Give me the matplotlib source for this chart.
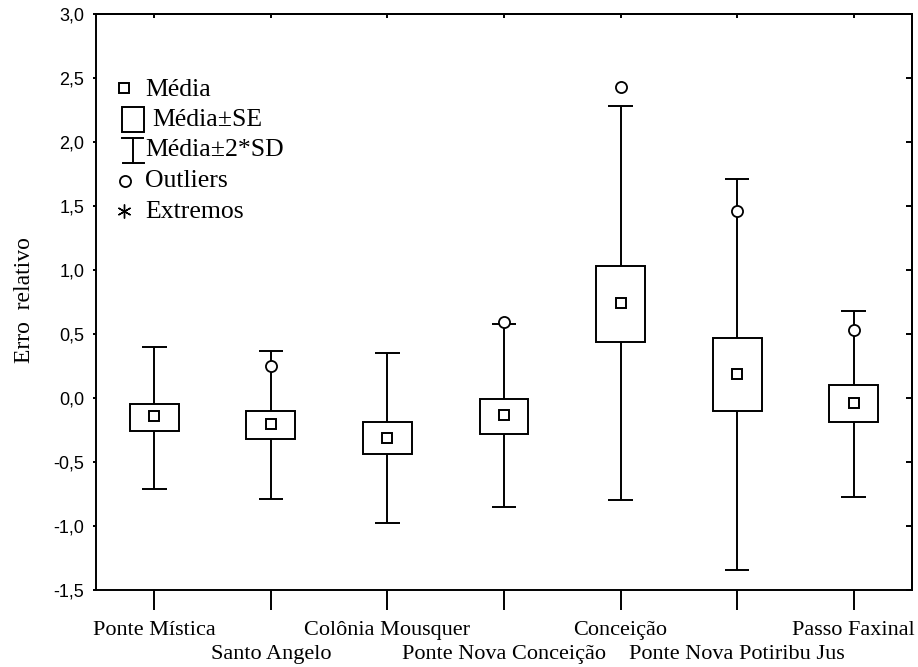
import numpy as np
import matplotlib
matplotlib.use("Agg")
import matplotlib.pyplot as plt
from matplotlib.patches import Rectangle

# ----------------------------------------
# DATA
# ----------------------------------------

sites = ["Ponte Mística", "Santo Angelo", "Colônia Mousquer",
         "Ponte Nova Conceição", "Conceição", "Ponte Nova Potiribu Jus",
         "Passo Faxinal"]

mean_vals = [-0.14, -0.20, -0.31, -0.13, 0.74, 0.19, -0.04]
se_low    = [-0.26, -0.32, -0.44, -0.28, 0.44, -0.10, -0.19]
se_high   = [-0.05, -0.10, -0.19, -0.01, 1.03, 0.47, 0.10]
sd_low    = [-0.71, -0.79, -0.98, -0.85, -0.80, -1.34, -0.77]
sd_high   = [0.40, 0.37, 0.35, 0.58, 2.28, 1.71, 0.68]
outliers  = [[], [0.25], [], [0.59], [2.43], [1.46], [0.53]]

y_ticks = [-1.5, -1.0, -0.5, 0.0, 0.5, 1.0, 1.5, 2.0, 2.5, 3.0]

serif = "Liberation Serif"
sans = "Liberation Sans"

# ----------------------------------------
# FIGURE
# ----------------------------------------

fig = plt.figure(figsize=(9.18, 6.67), dpi=100)
ax = fig.add_axes([96 / 918, 77 / 667, 816 / 918, 576 / 667])

x = np.arange(1, len(sites) + 1)
lw = 1.4

# whiskers (mean +/- 2*SD)
ax.vlines(x, sd_low, sd_high, color="black", lw=lw, zorder=1)
ax.hlines(sd_low, x - 0.105, x + 0.105, color="black", lw=lw, zorder=1)
ax.hlines(sd_high, x - 0.105, x + 0.105, color="black", lw=lw, zorder=1)

# boxes (mean +/- SE)
heights = np.array(se_high) - np.array(se_low)
ax.bar(x, heights, bottom=se_low, width=0.42, color="white",
       edgecolor="black", linewidth=lw, zorder=2)

# mean
ax.plot(x, mean_vals, "s", ms=7.5, mfc="white", mec="black", mew=lw, zorder=3)

# outliers
for xi, vals in zip(x, outliers):
    if vals:
        ax.plot([xi] * len(vals), vals, "o", ms=8, mfc="white", mec="black",
                mew=1.3, zorder=4)

ax.set_xlim(0.5, len(sites) + 0.5)
ax.set_ylim(-1.5, 3.0)

# axis ticks & labels: first row on the main axis...
ax.set_xticks(x)
ax.set_xticklabels([s if i % 2 == 0 else "" for i, s in enumerate(sites)],
                   fontfamily=serif, fontsize=16)
ax.tick_params(axis="x", direction="out", length=14.5, width=lw, pad=8)

# ...second (staggered) row on a secondary bottom axis
row2 = ax.secondary_xaxis("bottom")
row2.set_xticks(x[1::2])
row2.set_xticklabels(sites[1::2], fontfamily=serif, fontsize=16)
row2.tick_params(length=0, pad=39.5)
row2.spines["bottom"].set_visible(False)

ax.set_yticks(y_ticks)
ax.set_yticklabels([f"{v:.1f}".replace(".", ",") for v in y_ticks],
                   fontfamily=sans, fontsize=13)
ax.tick_params(axis="y", direction="out", length=2.5, width=lw, pad=6)

ax.set_ylabel("Erro  relativo", fontfamily=serif, fontsize=17)
ax.yaxis.set_label_coords(-0.075, 0.503)

for sp in ax.spines.values():
    sp.set_linewidth(lw)

# inward ticks on top and right
top = ax.secondary_xaxis("top")
top.set_xticks(x)
top.set_xticklabels([])
top.tick_params(direction="in", length=3, width=lw)
top.spines["top"].set_linewidth(lw)

right = ax.secondary_yaxis("right")
right.set_yticks(y_ticks)
right.set_yticklabels([])
right.tick_params(direction="in", length=4.5, width=lw)
right.spines["right"].set_linewidth(lw)

# ----------------------------------------
# LEGEND (drawn by hand, in axes fraction)
# ----------------------------------------

tr = ax.transAxes
leg_fs = 18.5

ax.plot([0.0343], [0.8715], "s", ms=7.5, mfc="white", mec="black",
        mew=lw, transform=tr, clip_on=False)
ax.text(0.060, 0.8576, "Média", transform=tr, fontfamily=serif,
        fontsize=leg_fs, va="baseline")

ax.add_patch(Rectangle((0.0319, 0.795), 0.027, 0.0434, transform=tr,
                       fill=False, edgecolor="black", lw=lw))
ax.text(0.0686, 0.8056, "Média±SE", transform=tr, fontfamily=serif,
        fontsize=leg_fs, va="baseline")

ax.plot([0.0453, 0.0453], [0.7413, 0.7847], color="black", lw=lw, transform=tr)
ax.plot([0.0319, 0.0576], [0.7847, 0.7847], color="black", lw=lw, transform=tr)
ax.plot([0.0331, 0.0588], [0.7413, 0.7413], color="black", lw=lw, transform=tr)
ax.text(0.060, 0.7535, "Média±2*SD", transform=tr, fontfamily=serif,
        fontsize=leg_fs, va="baseline")

ax.plot([0.0355], [0.7101], "o", ms=8, mfc="white", mec="black", mew=1.3,
        transform=tr)
ax.text(0.060, 0.7002, "Outliers", transform=tr, fontfamily=serif,
        fontsize=leg_fs, va="baseline")

ax.plot([0.0343], [0.658], marker=(6, 2, 0), ms=10, color="black", mew=1.0,
        transform=tr)
ax.text(0.060, 0.6458, "Extremos", transform=tr, fontfamily=serif,
        fontsize=leg_fs, va="baseline")

fig.savefig("out.png", dpi=100)
